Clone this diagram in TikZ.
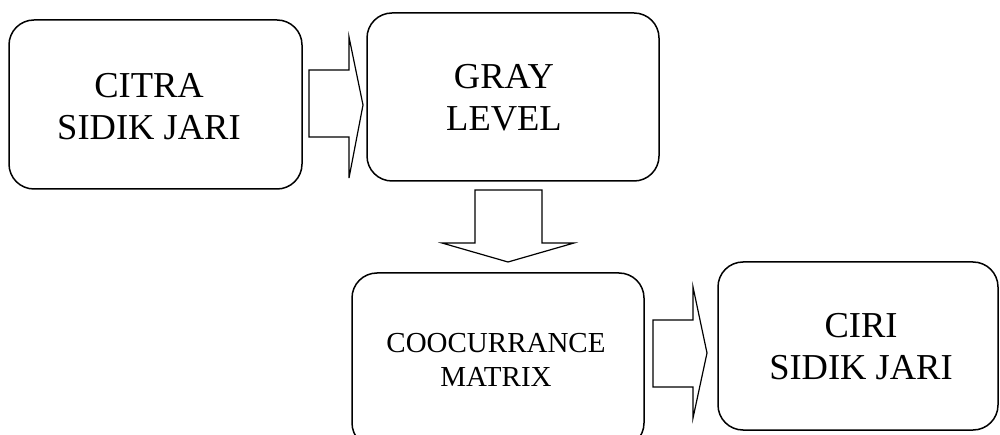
\documentclass[tikz,border=0pt]{standalone}
\usepackage{fontspec}
\setmainfont{Liberation Serif}
\begin{document}
\begin{tikzpicture}[x=1pt,y=-1pt,
  box/.style={draw=black, line width=1.5pt, rounded corners=25pt, rectangle, inner sep=0pt, outer sep=0pt},
  bigtext/.style={align=center, inner sep=0pt, font=\fontsize{36.5}{42}\selectfont},
  smalltext/.style={align=center, inner sep=0pt, font=\fontsize{29}{34}\selectfont},
  blockarrow/.style={draw=black, line width=1.2pt, fill=white, line join=miter}]
\useasboundingbox (0,0) rectangle (1000,435);
\clip (0,0) rectangle (1000,435);
% boxes
\node[box, minimum width=293pt, minimum height=169pt] (b1) at (155.5,104.5) {};
\node[box, minimum width=292pt, minimum height=168pt] (b2) at (513,97) {};
\node[box, minimum width=292pt, minimum height=175pt] (b3) at (498,360.5) {};
\node[box, minimum width=280pt, minimum height=168pt] (b4) at (858,346) {};
% texts
\node[bigtext] (t1) at (149,107) {CITRA\\SIDIK JARI};
\node[bigtext] (t2) at (504,98) {GRAY\\LEVEL};
\node[smalltext] (t3) at (496,360) {COOCURRANCE\\MATRIX};
\node[bigtext] (t4) at (861,347) {CIRI\\SIDIK JARI};
% block arrows between the boxes
\draw[blockarrow] (309,70) -- (349,70) -- (349,37) -- (363,105) -- (349,178) -- (349,137) -- (309,137) -- cycle;
\draw[blockarrow] (475,190) -- (542,190) -- (542,243) -- (574,243) -- (508,262) -- (442,243) -- (475,243) -- cycle;
\draw[blockarrow] (653,320) -- (693,320) -- (693,287) -- (707,353) -- (693,418) -- (693,387) -- (653,387) -- cycle;
\end{tikzpicture}
\end{document}
